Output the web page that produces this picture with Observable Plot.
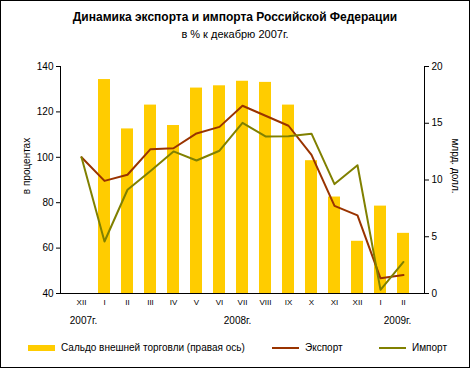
<!DOCTYPE html>
<html><head><meta charset="utf-8">
<script src="https://cdn.jsdelivr.net/npm/d3@7"></script>
<script src="https://cdn.jsdelivr.net/npm/@observablehq/plot@0.6"></script>
<style>
body{margin:0;background:#fff;font-family:Arial,"Liberation Sans",sans-serif;}
#wrap{position:relative;width:470px;height:368px;box-sizing:border-box;border:1px solid #000;background:#fff;overflow:hidden;}
#title{position:absolute;left:0;top:9px;width:468px;text-align:center;font-weight:bold;font-size:12px;color:#000;}
#sub{position:absolute;left:0;top:27px;width:468px;text-align:center;font-size:11px;color:#000;}
#chart{position:absolute;left:0;top:50px;}
.legend{position:absolute;top:341px;font-size:10px;color:#000;display:flex;align-items:center;}
.sw{display:inline-block;margin-right:6px;}
.yl{position:absolute;font-size:10px;color:#000;white-space:nowrap;}
</style></head>
<body>
<div id="wrap">
  <div id="title">Динамика экспорта и импорта Российской Федерации</div>
  <div id="sub">в % к декабрю 2007г.</div>
  <div id="chart"></div>
  <div class="yl" style="left:25px;top:165px;transform:translate(-50%,-50%) rotate(-90deg);">в процентах</div>
  <div class="yl" style="left:454px;top:165px;transform:translate(-50%,-50%) rotate(90deg);">млрд. долл.</div>
  <div class="legend" style="left:27px;"><span class="sw" style="width:27px;height:6px;background:#FFCC00;"></span>Сальдо внешней торговли (правая ось)</div>
  <div class="legend" style="left:271px;"><span class="sw" style="width:27px;height:2px;background:#993300;"></span>Экспорт</div>
  <div class="legend" style="left:378px;"><span class="sw" style="width:27px;height:2px;background:#808000;"></span>Импорт</div>
</div>
<script>
const months = ["2007-12","2008-01","2008-02","2008-03","2008-04","2008-05","2008-06","2008-07","2008-08","2008-09","2008-10","2008-11","2008-12","2009-01","2009-02"];
const monthLabels = ["XII","I","II","III","IV","V","VI","VII","VIII","IX","X","XI","XII","I","II"];
const balance = [null,18.85,14.5,16.6,14.8,18.1,18.3,18.7,18.6,16.6,11.7,8.5,4.6,7.7,5.3];
const exportVals = [100,89.6,92.3,103.6,104,110.5,113.4,122.7,118.3,113.9,101.1,78.6,74.4,46.7,48.1];
const importVals = [100,62.9,85.7,94,102.6,98.6,102.9,115.2,109.2,109.3,110.4,88.2,96.5,41.6,53.9];
const leftTicks = [40,60,80,100,120,140];
const rightTicks = [0,5,10,15,20];
const yearMonths = ["2007-12","2008-07","2009-02"];
const yearTexts = ["2007г.","2008г.","2009г."];

// right-axis values mapped into left-axis units: 0→40, 20→140
const toLeft = v => 40 + v * 5;
const labelOf = new Map(months.map((m,i)=>[m,monthLabels[i]]));
const barData = months.map((m,i)=>({m, v: balance[i]})).filter(d=>d.v!=null);
const exp = months.map((m,i)=>({m, v: exportVals[i]}));
const imp = months.map((m,i)=>({m, v: importVals[i]}));
const yearMark = (i, dx) => Plot.text([{m: yearMonths[i], t: yearTexts[i]}], {x: "m", y: 40, text: "t", dy: 27, dx, fontSize: 10, textAnchor: "middle"});

const chart = Plot.plot({
  width: 468, height: 278,
  marginLeft: 59, marginRight: 45, marginTop: 15, marginBottom: 36,
  style: {fontFamily: "Arial, 'Liberation Sans', sans-serif", fontSize: "10px", color: "#000", background: "transparent"},
  x: {domain: months, padding: 0.5, align: 0.5},
  y: {domain: [40,140]},
  marks: [
    Plot.barY(barData, {x: "m", y1: 40, y2: d => toLeft(d.v), fill: "#FFCC00"}),
    Plot.line(exp, {x: "m", y: "v", stroke: "#993300", strokeWidth: 2}),
    Plot.line(imp, {x: "m", y: "v", stroke: "#808000", strokeWidth: 2}),
    Plot.axisY(leftTicks, {anchor: "left", tickSize: 4, label: null, fontSize: 10, tickPadding: 3}),
    Plot.axisY(rightTicks.map(toLeft), {anchor: "right", tickSize: 4, label: null, fontSize: 10, tickPadding: 3, tickFormat: d => String((d-40)/5)}),
    Plot.axisX({tickSize: 0, tickPadding: 6, label: null, fontSize: 8, tickFormat: d => labelOf.get(d)}),
    Plot.frame({anchor: "left", stroke: "#000"}),
    Plot.frame({anchor: "right", stroke: "#000"}),
    Plot.frame({anchor: "bottom", stroke: "#000"}),
    yearMark(0, 2),
    yearMark(1, -5),
    yearMark(2, -6)
  ]
});
document.getElementById("chart").appendChild(chart);
</script>
</body></html>
